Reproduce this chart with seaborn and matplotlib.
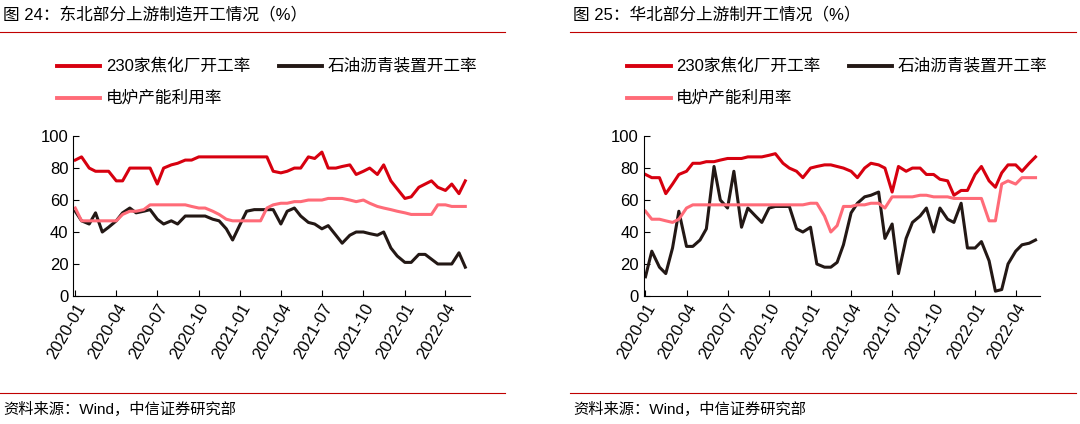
import pandas as pd
import matplotlib.pyplot as plt
import matplotlib.dates as mdates
import seaborn as sns

plt.rcParams["font.family"] = ["Liberation Sans", "Noto Sans CJK SC", "DejaVu Sans"]

# --- Données (valeurs bi-mensuelles, 2020-01 -> 2022-05) ---
dates = pd.date_range("2020-01-01", periods=58, freq="SMS")

ne_coke = [85, 87, 80, 78, 78, 78, 72, 72, 80, 80, 80, 80, 70, 80, 82, 83, 85, 85, 87, 87,
           87, 87, 87, 87, 87, 87, 87, 87, 87, 78, 77, 78, 80, 80, 87, 86, 90, 80, 80, 81,
           82, 76, 78, 80, 76, 82, 72, 67, 61, 62, 68, 70, 72, 68, 66, 70, 64, 72]
ne_asph = [53, 47, 45, 52, 40, 43, 47, 52, 55, 52, 53, 54, 48, 45, 47, 45, 50, 50, 50, 50,
           48, 47, 42, 35, 45, 53, 54, 54, 54, 54, 45, 53, 55, 50, 46, 45, 42, 44, 38, 33,
           38, 40, 40, 39, 38, 40, 30, 25, 21, 21, 26, 26, 23, 20, 20, 20, 27, 18]
ne_eaf = [55, 47, 47, 47, 47, 47, 47, 51, 53, 53, 54, 57, 57, 57, 57, 57, 57, 56, 55, 55,
          53, 51, 48, 47, 47, 47, 47, 47, 55, 57, 58, 58, 59, 59, 60, 60, 60, 61, 61, 61,
          60, 59, 60, 58, 56, 55, 54, 53, 52, 51, 51, 51, 51, 57, 57, 56, 56, 56]

nc_coke = [76, 74, 74, 64, 70, 76, 78, 83, 83, 84, 84, 85, 86, 86, 86, 87, 87, 87, 88, 89,
           83, 80, 78, 74, 80, 81, 82, 82, 81, 80, 78, 74, 80, 83, 82, 80, 65, 81, 78, 80,
           80, 76, 76, 73, 72, 63, 66, 66, 76, 81, 72, 68, 77, 82, 82, 78, 83, 87]
nc_asph = [12, 28, 18, 14, 30, 53, 31, 31, 35, 42, 81, 60, 55, 78, 43, 55, 50, 46, 55, 56,
           56, 56, 42, 40, 43, 20, 18, 18, 21, 32, 52, 58, 62, 63, 65, 36, 45, 14, 36, 46,
           50, 55, 40, 55, 48, 46, 58, 30, 30, 34, 22, 3, 4, 20, 28, 32, 33, 35]
nc_eaf = [53, 48, 48, 47, 46, 48, 55, 57, 57, 57, 57, 57, 57, 57, 57, 57, 57, 57, 57, 57,
          57, 57, 57, 57, 58, 58, 50, 40, 44, 56, 56, 57, 57, 58, 58, 55, 62, 62, 62, 62,
          63, 63, 62, 62, 62, 61, 61, 61, 61, 61, 47, 47, 70, 72, 70, 74, 74, 74]

series_names = ["230家焦化厂开工率", "石油沥青装置开工率", "电炉产能利用率"]
colors = {"230家焦化厂开工率": "#D7000F", "石油沥青装置开工率": "#231815", "电炉产能利用率": "#FF6B78"}

panels = [
    ("图 24：东北部分上游制造开工情况（%）", [ne_coke, ne_asph, ne_eaf], 0.068),
    ("图 25：华北部分上游制开工情况（%）", [nc_coke, nc_asph, nc_eaf], 0.596),
]

fig = plt.figure(figsize=(10.8, 4.24), dpi=100)

for title, values, x0 in panels:
    df = pd.concat([pd.DataFrame({"Date": dates, "val": v, "serie": n})
                    for n, v in zip(series_names, values)])
    ax = fig.add_axes([x0, 0.302, 0.367, 0.377])
    sns.lineplot(data=df, x="Date", y="val", hue="serie", hue_order=series_names,
                 palette=colors, linewidth=2.2, ax=ax, legend=False)
    ax.set_ylim(0, 100)
    ax.set_yticks(range(0, 101, 20))
    ax.set_xlim(pd.Timestamp("2019-12-28"), pd.Timestamp("2022-05-25"))
    ax.xaxis.set_major_locator(mdates.MonthLocator(bymonth=[1, 4, 7, 10]))
    ax.xaxis.set_major_formatter(mdates.DateFormatter("%Y-%m"))
    plt.setp(ax.get_xticklabels(), rotation=60, ha="right", rotation_mode="anchor")
    ax.tick_params(labelsize=12, length=4, direction="in")
    ax.set_xlabel("")
    ax.set_ylabel("")
    for s in ["top", "right"]:
        ax.spines[s].set_visible(False)

    # Légende sur deux lignes
    ly1, ly2 = 0.845, 0.77
    for (lx, ly), n in zip([(x0 - 0.015, ly1), (x0 + 0.19, ly1), (x0 - 0.015, ly2)], series_names):
        fig.add_artist(plt.Line2D([lx, lx + 0.04], [ly, ly], color=colors[n], lw=2.8))
        fig.text(lx + 0.045, ly, n, fontsize=12, va="center")

    # Titre et source
    fig.text(x0 - 0.065, 0.965, title, fontsize=12, va="center")
    fig.add_artist(plt.Line2D([x0 - 0.068, x0 + 0.4], [0.925, 0.925], color="#C00000", lw=0.8))
    fig.add_artist(plt.Line2D([x0 - 0.068, x0 + 0.4], [0.072, 0.072], color="#C00000", lw=0.8))
    fig.text(x0 - 0.065, 0.035, "资料来源：Wind，中信证券研究部", fontsize=11, va="center")

plt.savefig("out.png", dpi=100)
